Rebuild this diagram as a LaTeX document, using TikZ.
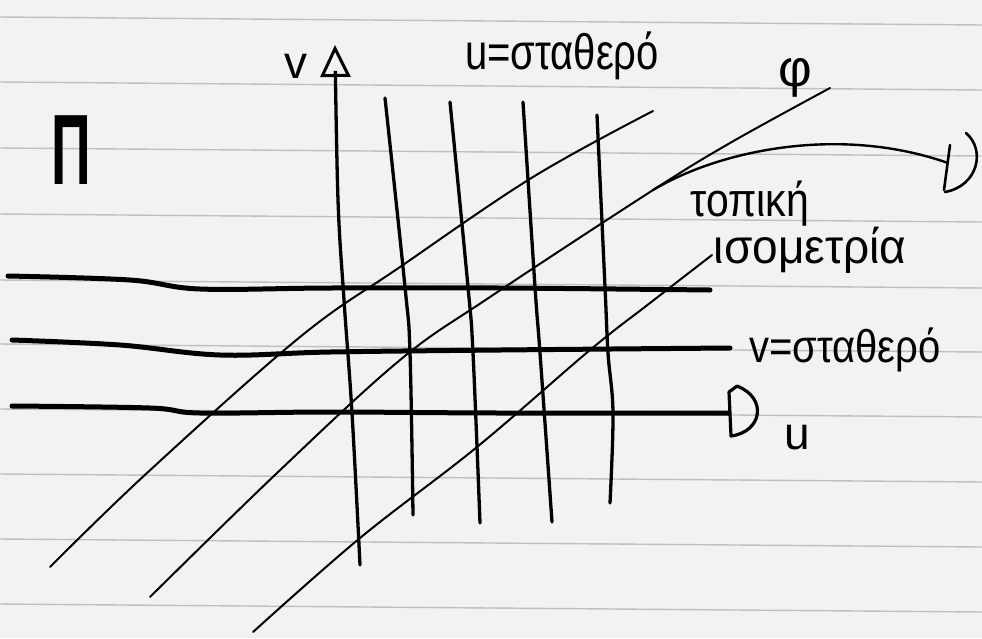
\documentclass[tikz,border=0pt]{standalone}
\usepackage{fontspec}
\setmainfont{Liberation Sans}
\usetikzlibrary{arrows.meta}
\begin{document}
\begin{tikzpicture}[x=1pt,y=-1pt,
  paperline/.style={draw=black!25,line width=1.4pt},
  gridthick/.style={draw=black,line width=5pt,line cap=round},
  gridvert/.style={draw=black,line width=3.3pt,line cap=round},
  gridthin/.style={draw=black,line width=2pt,line cap=round},
  headstroke/.style={draw=black,line width=3.2pt,line cap=round,line join=round},
  hand/.style={text=black,inner sep=0pt},
]
\fill[black!5] (0,0) rectangle (982,638);
\useasboundingbox (0,0) rectangle (982,638);
% notebook ruling
\foreach \yy in {17,82,148,214,280,344,409,474,539,604}{
  \draw[paperline] (0,\yy) -- (982,\yy+8);
}
% horizontal curves v = const
\draw[gridthick] plot[smooth,tension=0.6] coordinates {(8,276) (130,280) (200,289) (330,288) (500,288) (710,290)};
\draw[gridthick] plot[smooth,tension=0.6] coordinates {(12,340) (120,345) (220,355) (330,352) (500,350) (730,348)};
\draw[gridthick] plot[smooth,tension=0.6] coordinates {(12,406) (150,408) (200,413) (330,412) (500,413) (729,413)};
% u-axis head (hand-drawn D)
\draw[headstroke] (737,386) -- (729,392) -- (731,436) .. controls (762,432) and (768,398) .. (737,386);
% vertical curves u = const
\draw[gridvert,-{Triangle[open,length=32pt,width=30pt,line width=3pt]}] plot[smooth,tension=0.6] coordinates {(360,565) (352,413) (344,300) (338,200) (335,45)};
\draw[gridvert] plot[smooth,tension=0.6] coordinates {(385,98) (405,287) (410,353) (413,515)};
\draw[gridvert] plot[smooth,tension=0.6] coordinates {(450,102) (468,287) (473,353) (480,523)};
\draw[gridvert] plot[smooth,tension=0.6] coordinates {(523,102) (535,287) (540,353) (552,522)};
\draw[gridvert] plot[smooth,tension=0.6] coordinates {(597,115) (605,287) (608,353) (613,413) (610,503)};
% diagonal family
\draw[gridthin] plot[smooth,tension=0.6] coordinates {(50,567) (147,473) (300,337) (400,267) (533,177) (653,111)};
\draw[gridthin] plot[smooth,tension=0.6] coordinates {(150,597) (277,473) (400,360) (490,297) (650,192) (730,143) (830,88)};
\draw[gridthin] plot[smooth,tension=0.6] coordinates {(253,632) (360,538) (477,447) (590,350) (650,303) (712,255)};
% labels
\node[hand,font=\bfseries\fontsize{100}{100}\selectfont,xscale=0.55] (P) at (71,150) {Π};
\node[hand,font=\fontsize{46}{46}\selectfont] (vlab) at (296,66) {v};
\node[hand,font=\fontsize{40}{40}\selectfont,yscale=1.25] (ucst) at (562,56) {u=σταθερό};
\node[hand,font=\fontsize{52}{52}\selectfont] (phi) at (795,78) {φ};
\node[hand,font=\fontsize{41}{41}\selectfont,yscale=1.15] (top1) at (750,204) {τοπική};
\node[hand,font=\fontsize{46}{46}\selectfont,yscale=1.05] (top2) at (810,250) {ισομετρία};
\node[hand,font=\fontsize{40}{40}\selectfont,yscale=1.15] (vcst) at (845,350) {v=σταθερό};
\node[hand,font=\fontsize{46}{46}\selectfont] (ulab) at (797,438) {u};
% map arrow
\coordinate (mapS) at (653,190);
\coordinate (mapE) at (948,163);
\draw[gridthin,line width=2.4pt] (mapS) .. controls (720,150) and (840,125) .. (mapE);
\draw[headstroke,line width=2.6pt] (950,145) -- (944,190);
\draw[headstroke,line width=2.6pt] (966,133) .. controls (986,150) and (978,186) .. (945,192);
\end{tikzpicture}
\end{document}
